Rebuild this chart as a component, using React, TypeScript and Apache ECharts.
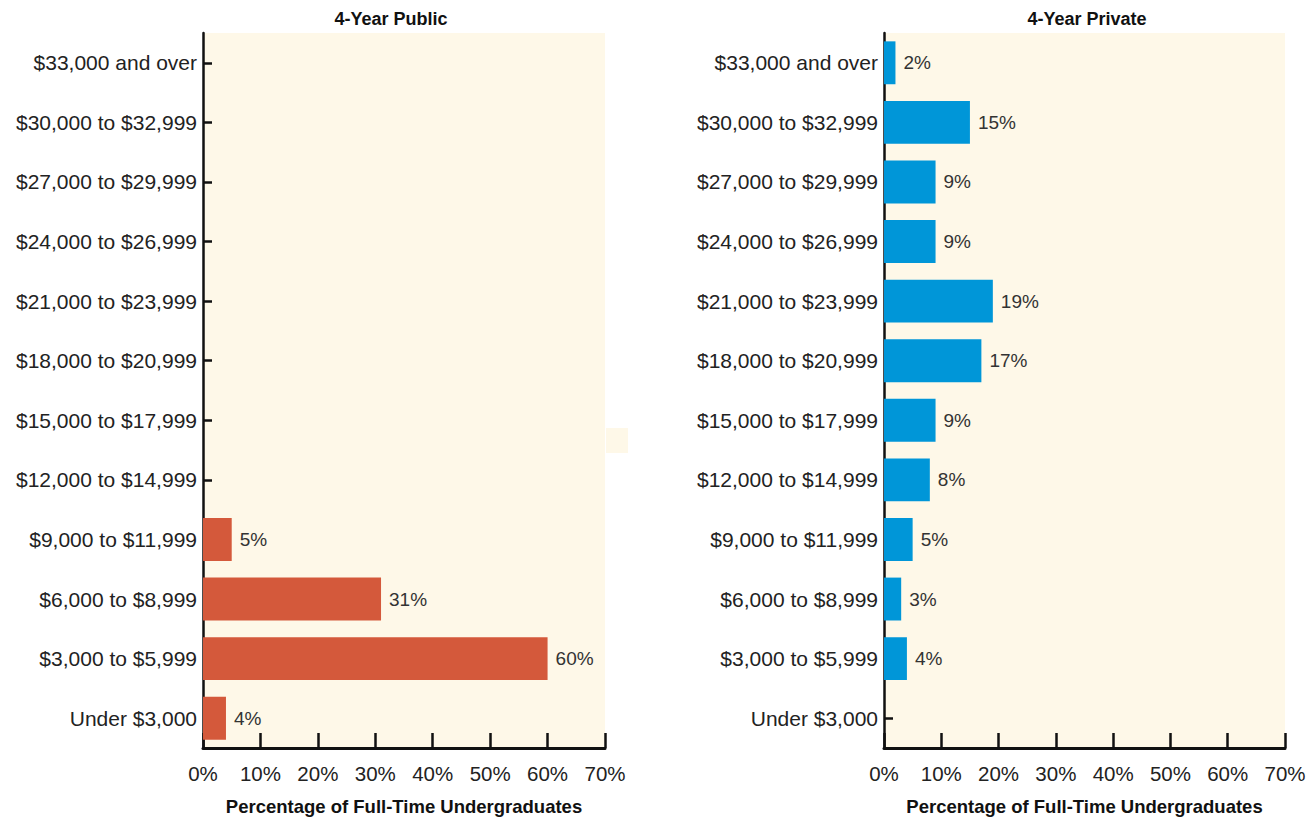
import React, { useEffect, useRef } from "react";
import * as echarts from "echarts";

const categories = [
  "Under $3,000",
  "$3,000 to $5,999",
  "$6,000 to $8,999",
  "$9,000 to $11,999",
  "$12,000 to $14,999",
  "$15,000 to $17,999",
  "$18,000 to $20,999",
  "$21,000 to $23,999",
  "$24,000 to $26,999",
  "$27,000 to $29,999",
  "$30,000 to $32,999",
  "$33,000 and over",
];

const publicValues: (number | string)[] = [4, 60, 31, 5, "-", "-", "-", "-", "-", "-", "-", "-"];
const privateValues: (number | string)[] = ["-", 4, 3, 5, 8, 9, 17, 19, 9, 9, 15, 2];

const panelTitles = ["4-Year Public", "4-Year Private"];
const axisName = "Percentage of Full-Time Undergraduates";
const xTicks = { min: 0, max: 70, interval: 10 };

const FONT = "'Liberation Sans', Arial, Helvetica, sans-serif";
const CREAM = "#FEF8E8";
const INK = "#111111";

export default function App() {
  const ref = useRef<HTMLDivElement>(null);

  useEffect(() => {
    if (!ref.current) return;
    const chart = echarts.init(ref.current, undefined, { renderer: "svg" });

    const grids = [
      { left: 203, top: 33, width: 402, height: 715 },
      { left: 884, top: 33, width: 401, height: 715 },
    ];

    const xAxis = grids.map((_, i) => ({
      type: "value",
      gridIndex: i,
      min: xTicks.min,
      max: xTicks.max,
      interval: xTicks.interval,
      axisLine: { show: true, lineStyle: { color: INK, width: 3 } },
      axisTick: { show: true, inside: true, length: 15, lineStyle: { color: INK, width: 2.5 } },
      axisLabel: {
        formatter: "{value}%",
        fontFamily: FONT,
        fontSize: 20.5,
        color: "#222",
        margin: 15,
      },
      splitLine: { show: false },
      name: axisName,
      nameLocation: "middle",
      nameGap: 49,
      nameTextStyle: { fontFamily: FONT, fontSize: 18.5, fontWeight: "bold", color: INK },
    }));

    const yAxis = grids.map((_, i) => ({
      type: "category",
      gridIndex: i,
      data: categories,
      axisLine: { show: true, lineStyle: { color: INK, width: 2.5 } },
      axisTick: { show: true, alignWithLabel: true, inside: true, length: 9, lineStyle: { color: INK, width: 2.5 } },
      axisLabel: { fontFamily: FONT, fontSize: 21, color: "#222", margin: 6 },
      splitLine: { show: false },
    }));

    const makeSeries = (data: (number | string)[], idx: number, color: string) => ({
      type: "bar",
      xAxisIndex: idx,
      yAxisIndex: idx,
      data,
      barWidth: "72%",
      itemStyle: { color },
      label: {
        show: true,
        position: "right",
        distance: 8,
        formatter: "{c}%",
        fontFamily: FONT,
        fontSize: 19,
        color: "#333",
      },
    });

    chart.setOption({
      animation: false,
      backgroundColor: "#ffffff",
      title: [
        {
          text: panelTitles[0],
          left: 386,
          top: 5,
          textAlign: "center",
          textStyle: { fontFamily: FONT, fontSize: 18, fontWeight: "bold", color: INK },
        },
        {
          text: panelTitles[1],
          left: 1082,
          top: 5,
          textAlign: "center",
          textStyle: { fontFamily: FONT, fontSize: 18, fontWeight: "bold", color: INK },
        },
      ],
      grid: grids.map((g) => ({
        ...g,
        show: true,
        backgroundColor: CREAM,
        borderWidth: 0,
        containLabel: false,
        outerBoundsMode: "none",
      })),
      xAxis,
      yAxis,
      series: [makeSeries(publicValues, 0, "#D4593B"), makeSeries(privateValues, 1, "#0096D8")],
      graphic: [
        {
          type: "rect",
          x: 606,
          y: 428,
          shape: { width: 22, height: 25 },
          style: { fill: CREAM },
          silent: true,
        },
      ],
    });

    return () => chart.dispose();
  }, []);

  return (
    <div
      ref={ref}
      style={{ position: "absolute", left: 0, top: 0, width: 1315, height: 819 }}
    />
  );
}
